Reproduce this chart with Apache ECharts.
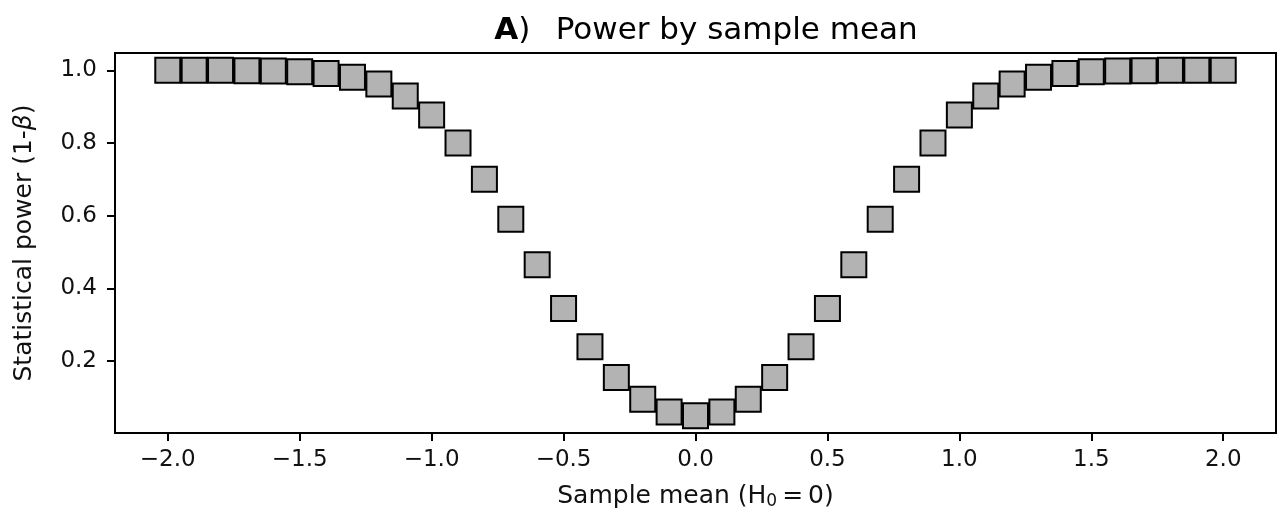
<!DOCTYPE html>
<html>
<head>
<meta charset="utf-8">
<script src="https://cdn.jsdelivr.net/npm/echarts@6/dist/echarts.min.js"></script>
<style>
  html, body { margin: 0; padding: 0; background: #fff; }
  #chart { width: 1278px; height: 516px; }
</style>
</head>
<body>
<div id="chart"></div>
<script>
// sample means tested against H0 = 0
const sampleMeans = [
  -2.0, -1.9, -1.8, -1.7, -1.6, -1.5, -1.4, -1.3, -1.2, -1.1,
  -1.0, -0.9, -0.8, -0.7, -0.6, -0.5, -0.4, -0.3, -0.2, -0.1,
  0.0, 0.1, 0.2, 0.3, 0.4, 0.5, 0.6, 0.7, 0.8, 0.9,
  1.0, 1.1, 1.2, 1.3, 1.4, 1.5, 1.6, 1.7, 1.8, 1.9, 2.0
];
// statistical power (1-beta)
const powerValues = [
  1.0, 1.0, 1.0, 0.999, 0.998, 0.996, 0.991, 0.981, 0.962, 0.929,
  0.877, 0.80, 0.70, 0.59, 0.465, 0.345, 0.24, 0.155, 0.095, 0.06,
  0.05, 0.06, 0.095, 0.155, 0.24, 0.345, 0.465, 0.59, 0.70, 0.80,
  0.877, 0.929, 0.962, 0.981, 0.991, 0.996, 0.998, 0.999, 1.0, 1.0, 1.0
];
const xTicks = [-2.0, -1.5, -1.0, -0.5, 0.0, 0.5, 1.0, 1.5, 2.0];
const yTicks = [0.2, 0.4, 0.6, 0.8, 1.0];

const FONT = "DejaVu Sans";
const TEXT = "#111";

const chart = echarts.init(document.getElementById("chart"), null, { renderer: "canvas" });

chart.setOption({
  animation: false,
  backgroundColor: "#fff",
  textStyle: { fontFamily: FONT },
  title: {
    text: "{b|A}{n|)\u2002 Power by sample mean}",
    left: 701,
    top: 10,
    textAlign: "center",
    textStyle: {
      rich: {
        b: { fontFamily: FONT, fontSize: 31, fontWeight: "bold", color: "#000" },
        n: { fontFamily: FONT, fontSize: 31, fontWeight: "normal", color: "#000" },
      },
    },
  },
  grid: {
    left: 115, right: 2, top: 53, bottom: 83,
    show: true, borderColor: "#000", borderWidth: 2, backgroundColor: "transparent",
  },
  xAxis: {
    type: "value",
    min: -2.2,
    max: 2.2,
    name: "{n|Sample mean (H}{s|0}{n|\u2009=\u20090)}",
    nameLocation: "middle",
    nameGap: 50,
    nameTextStyle: {
      rich: {
        n: { fontFamily: FONT, fontSize: 25, color: TEXT },
        s: { fontFamily: FONT, fontSize: 17, color: TEXT, padding: [10, 0, 0, 0] },
      },
    },
    splitLine: { show: false },
    axisLine: { show: true, onZero: false, lineStyle: { color: "#000", width: 2 } },
    axisTick: { show: true, length: 8, customValues: xTicks, lineStyle: { color: "#000", width: 2 } },
    axisLabel: {
      margin: 16,
      fontFamily: FONT,
      fontSize: 23,
      color: TEXT,
      customValues: xTicks,
      formatter: (v) => (v < 0 ? "\u2212" + Math.abs(v).toFixed(1) : v.toFixed(1)),
    },
  },
  yAxis: {
    type: "value",
    min: 0.0025,
    max: 1.0475,
    name: "{n|Statistical power (1-}{i|β}{n|)}",
    nameLocation: "middle",
    nameGap: 78,
    nameRotate: 90,
    nameTextStyle: {
      rich: {
        n: { fontFamily: FONT, fontSize: 25, color: TEXT },
        i: { fontFamily: FONT, fontSize: 25, fontStyle: "italic", color: TEXT },
      },
    },
    splitLine: { show: false },
    axisLine: { show: true, onZero: false, lineStyle: { color: "#000", width: 2 } },
    axisTick: { show: true, length: 8, customValues: yTicks, lineStyle: { color: "#000", width: 2 } },
    axisLabel: {
      margin: 18,
      fontFamily: FONT,
      fontSize: 23,
      color: TEXT,
      customValues: yTicks,
      formatter: (v) => v.toFixed(1),
    },
  },
  series: [
    {
      type: "scatter",
      data: sampleMeans.map((x, i) => [x, powerValues[i]]),
      symbol: "rect",
      symbolSize: 25,
      itemStyle: { color: "#b3b3b3", borderColor: "#000", borderWidth: 2, opacity: 1 },
      emphasis: { disabled: true },
      clip: false,
    },
  ],
});
</script>
</body>
</html>
